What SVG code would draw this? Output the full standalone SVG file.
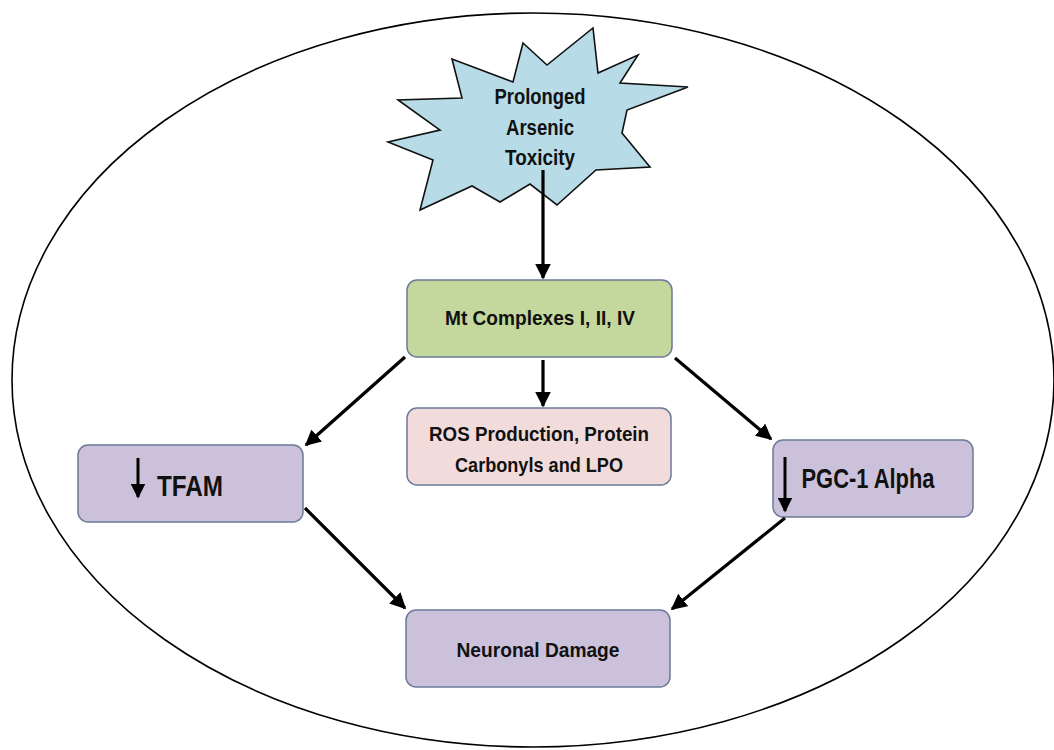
<svg xmlns="http://www.w3.org/2000/svg" width="1054" height="750" viewBox="0 0 1054 750">
<defs>
<marker id="ah" viewBox="0 0 10 10" refX="9" refY="5" markerWidth="5" markerHeight="5" orient="auto" markerUnits="strokeWidth">
<path d="M0,0 L10,5 L0,10 Z" fill="#000"/>
</marker>
<marker id="ahs" viewBox="0 0 10 10" refX="9" refY="5" markerWidth="5" markerHeight="5" orient="auto" markerUnits="strokeWidth">
<path d="M0,0 L10,5 L0,10 Z" fill="#000"/>
</marker>
</defs>
<style>
.box{stroke:#6b7a99;stroke-width:1.5}
.txt{font-family:"Liberation Sans",Arial,sans-serif;font-weight:bold;fill:#111;text-anchor:middle}
.conn line{stroke:#000;stroke-width:3.2;marker-end:url(#ah)}
</style>
<rect width="1054" height="750" fill="#fff"/>
<ellipse cx="533" cy="380" rx="521" ry="367" fill="none" stroke="#000" stroke-width="1.6"/>

<g id="toxicity">
<polygon points="523,43 547,65 593,28 598,73 638,55 620,83 688,87 627,110 622,133 650,167 596,170 557,205 530,184 500,202 472,186 420,210 433,160 388,142 440,130 398,100 462,98 452,59 513,82" fill="#b7dce8" stroke="#111" stroke-width="1.6" stroke-linejoin="miter"/>
<text class="txt" x="540" y="104" font-size="22" textLength="91" lengthAdjust="spacingAndGlyphs">Prolonged</text>
<text class="txt" x="540" y="135" font-size="22" textLength="68" lengthAdjust="spacingAndGlyphs">Arsenic</text>
<text class="txt" x="540" y="165" font-size="22" textLength="70" lengthAdjust="spacingAndGlyphs">Toxicity</text>
</g>

<g id="mt">
<rect class="box" x="407" y="280" width="265" height="77" rx="10" fill="#c4d89d"/>
<text class="txt" x="540" y="325" font-size="21" textLength="190" lengthAdjust="spacingAndGlyphs">Mt Complexes I, II, IV</text>
</g>

<g id="ros">
<rect class="box" x="407" y="408" width="264" height="77" rx="10" fill="#f2dcdb"/>
<text class="txt" x="539" y="441" font-size="21" textLength="220" lengthAdjust="spacingAndGlyphs">ROS Production, Protein</text>
<text class="txt" x="539" y="472" font-size="21" textLength="168" lengthAdjust="spacingAndGlyphs">Carbonyls and LPO</text>
</g>

<g id="tfam">
<rect class="box" x="78" y="445" width="225" height="77" rx="10" fill="#ccc1da"/>
<line x1="138" y1="458" x2="138" y2="497" stroke="#000" stroke-width="3" marker-end="url(#ahs)"/>
<text class="txt" x="190" y="496" font-size="30" textLength="66" lengthAdjust="spacingAndGlyphs">TFAM</text>
</g>

<g id="pgc">
<rect class="box" x="773" y="440" width="200" height="77" rx="10" fill="#ccc1da"/>
<line x1="785" y1="457" x2="785" y2="511" stroke="#000" stroke-width="3" marker-end="url(#ahs)"/>
<text class="txt" x="868" y="488" font-size="27" textLength="133" lengthAdjust="spacingAndGlyphs">PGC-1 Alpha</text>
</g>

<g id="neuronal">
<rect class="box" x="406" y="610" width="264" height="77" rx="10" fill="#ccc1da"/>
<text class="txt" x="538" y="657" font-size="21" textLength="163" lengthAdjust="spacingAndGlyphs">Neuronal Damage</text>
</g>

<g id="connectors" class="conn">
<line x1="543" y1="170" x2="543" y2="278"/>
<line x1="543" y1="360" x2="543" y2="406"/>
<line x1="405" y1="357" x2="306" y2="445"/>
<line x1="305" y1="508" x2="405" y2="608"/>
<line x1="675" y1="358" x2="771" y2="439"/>
<line x1="785" y1="518" x2="672" y2="609"/>
</g>
</svg>
